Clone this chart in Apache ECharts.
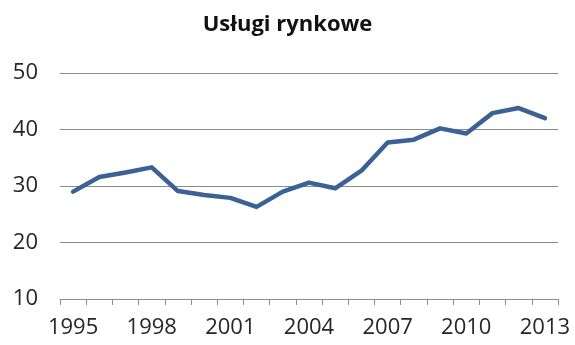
<!DOCTYPE html>
<html>
<head>
<meta charset="utf-8">
<script src="https://cdn.jsdelivr.net/npm/echarts@6/dist/echarts.min.js"></script>
<style>
  html, body { margin: 0; padding: 0; background: #fff; }
  #chart { width: 575px; height: 345px; }
</style>
</head>
<body>
<div id="chart"></div>
<script>
// Years on the category axis
const years = ['1995','1996','1997','1998','1999','2000','2001','2002','2003','2004',
               '2005','2006','2007','2008','2009','2010','2011','2012','2013'];
// Series values
const values = [29.0, 31.6, 32.4, 33.3, 29.1, 28.4, 27.9, 26.3, 29.0, 30.6,
                29.6, 32.7, 37.7, 38.2, 40.2, 39.3, 42.9, 43.8, 42.0];
// Value axis ticks
const yTicks = [10, 20, 30, 40, 50];

const font = '"Open Sans", "Noto Sans", sans-serif';
const chart = echarts.init(document.getElementById('chart'), null, { renderer: 'canvas' });
chart.setOption({
  animation: false,
  title: {
    text: 'Usługi rynkowe',
    left: 'center',
    top: 9,
    textStyle: { fontFamily: font, fontWeight: 'bold', fontSize: 22, color: '#111' }
  },
  grid: { left: 60, right: 17, top: 73, bottom: 46 },
  xAxis: {
    type: 'category',
    data: years,
    boundaryGap: true,
    axisLine: { lineStyle: { color: '#8c8c8c', width: 1 } },
    axisTick: { show: true, length: 6, alignWithLabel: false, interval: 0, lineStyle: { color: '#8c8c8c' } },
    axisLabel: {
      interval: 2,
      margin: 18,
      fontFamily: font, fontSize: 22, color: '#262626'
    },
    splitLine: { show: false }
  },
  yAxis: {
    type: 'value',
    min: yTicks[0],
    max: yTicks[yTicks.length - 1],
    interval: 10,
    axisLine: { show: false },
    axisTick: { show: false },
    axisLabel: { margin: 22, fontFamily: font, fontSize: 22, color: '#262626' },
    splitLine: { lineStyle: { color: '#8c8c8c', width: 1 } }
  },
  series: [{
    type: 'line',
    data: values,
    symbol: 'none',
    lineStyle: { color: '#3b6195', width: 4.5, cap: 'round', join: 'round' }
  }]
});
</script>
</body>
</html>
